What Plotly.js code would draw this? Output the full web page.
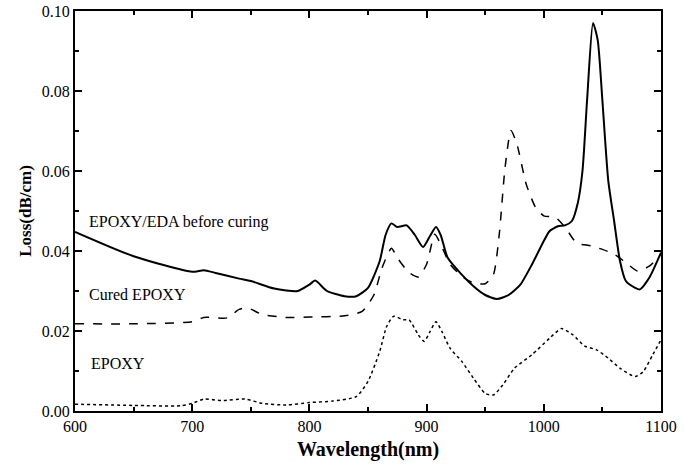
<!DOCTYPE html>
<html><head><meta charset="utf-8">
<script src="https://cdn.plot.ly/plotly-3.0.1.min.js"></script>
<style>html,body{margin:0;padding:0;background:#fff}#chart{width:685px;height:469px}</style>
</head><body><div id="chart"></div>
<script>
const edaX = [600,650,700,710,720,740,750,770,790,800,805,815,830,840,850,860,865,870,875,883,890,897,903,908,912,918,930,940,950,960,970,980,990,1000,1005,1012,1018,1024,1029,1033,1037,1042,1046,1050,1055,1060,1065,1070,1078,1082,1090,1100];
const edaY = [0.0448,0.0387,0.0348,0.0352,0.0345,0.0331,0.0325,0.0306,0.0300,0.0316,0.0326,0.0300,0.0287,0.0287,0.0308,0.0375,0.0440,0.0469,0.0460,0.0464,0.0440,0.0410,0.0438,0.0460,0.0440,0.0383,0.0341,0.0312,0.0290,0.0280,0.0290,0.0316,0.0367,0.0425,0.0450,0.0462,0.0464,0.0475,0.0520,0.0600,0.0780,0.0970,0.0927,0.0776,0.0576,0.0475,0.0375,0.0325,0.0308,0.0304,0.0333,0.0396];
const curedX = [600,650,700,710,730,740,747,760,780,800,830,845,855,862,870,875,885,893,900,907,912,920,930,940,950,957,962,967,972,977,985,993,1000,1010,1018,1028,1040,1050,1060,1070,1080,1090,1100];
const curedY = [0.0218,0.0218,0.0223,0.0234,0.0233,0.0254,0.0258,0.0241,0.0234,0.0235,0.0238,0.0249,0.0290,0.0358,0.0407,0.0383,0.0346,0.0335,0.0367,0.0442,0.0417,0.0367,0.0337,0.0320,0.0318,0.0341,0.0442,0.0610,0.0701,0.0668,0.0567,0.0509,0.0488,0.0484,0.0460,0.0420,0.0413,0.0404,0.0392,0.0371,0.0350,0.0362,0.0392];
const epoxyX = [600,650,690,700,710,725,745,760,780,800,820,840,850,860,866,872,880,885,893,898,903,908,913,920,930,940,950,957,965,975,990,1005,1015,1025,1035,1045,1055,1065,1078,1085,1093,1100];
const epoxyY = [0.0017,0.0014,0.0013,0.0019,0.0030,0.0026,0.0030,0.0019,0.0015,0.0021,0.0025,0.0036,0.0074,0.0149,0.0212,0.0237,0.0228,0.0228,0.0190,0.0174,0.0199,0.0223,0.0199,0.0157,0.0124,0.0082,0.0044,0.0040,0.0065,0.0107,0.0141,0.0182,0.0206,0.0190,0.0162,0.0153,0.0132,0.0107,0.0086,0.0099,0.0141,0.0178];
const seriesNames = ["EPOXY/EDA before curing","Cured EPOXY","EPOXY"];
const xTickVals = [600,700,800,900,1000,1100];
const yTickVals = [0,0.02,0.04,0.06,0.08,0.10];

const serif = "Liberation Serif, Times New Roman, serif";
const traces = [
  {x: edaX, y: edaY, name: seriesNames[0], mode: "lines", line: {color: "#000", width: 2, shape: "spline", smoothing: 0.6}},
  {x: curedX, y: curedY, name: seriesNames[1], mode: "lines", line: {color: "#000", width: 1.5, dash: "dash", shape: "spline", smoothing: 0.6}},
  {x: epoxyX, y: epoxyY, name: seriesNames[2], mode: "lines", line: {color: "#000", width: 1.5, dash: "dot", shape: "spline", smoothing: 0.6}}
];
const layout = {
  width: 685, height: 469,
  margin: {l: 75, r: 24, t: 11, b: 58},
  showlegend: false,
  xaxis: {range: [xTickVals[0], xTickVals[xTickVals.length - 1]], showline: true, linewidth: 2, linecolor: "#000", mirror: "allticks",
    tickmode: "linear", tick0: xTickVals[0], dtick: xTickVals[1] - xTickVals[0],
    ticks: "inside", ticklen: 7, tickwidth: 2, tickcolor: "#000", showgrid: false, zeroline: false,
    tickfont: {family: serif, size: 16, color: "#000"},
    minor: {ticks: "inside", ticklen: 4, tickcolor: "#000", dtick: (xTickVals[1] - xTickVals[0]) / 2},
    title: {text: "<b>Wavelength(nm)</b>", font: {family: serif, size: 20, color: "#000"}, standoff: 8}},
  yaxis: {range: [yTickVals[0], yTickVals[yTickVals.length - 1]], showline: true, linewidth: 2, linecolor: "#000", mirror: "allticks",
    tickmode: "linear", tick0: yTickVals[0], dtick: yTickVals[1] - yTickVals[0], tickformat: ".2f",
    ticks: "inside", ticklen: 7, tickwidth: 2, tickcolor: "#000", showgrid: false, zeroline: false,
    tickfont: {family: serif, size: 16, color: "#000"},
    minor: {ticks: "inside", ticklen: 4, tickcolor: "#000", dtick: (yTickVals[1] - yTickVals[0]) / 2},
    title: {text: "<b>Loss(dB/cm)</b>", font: {family: serif, size: 17, color: "#000"}, standoff: 6}},
  annotations: [
    {x: 610, y: 0.0473, xref: "x", yref: "y", text: seriesNames[0], showarrow: false, xanchor: "left", font: {family: serif, size: 16, color: "#000"}},
    {x: 610, y: 0.0292, xref: "x", yref: "y", text: seriesNames[1], showarrow: false, xanchor: "left", font: {family: serif, size: 16, color: "#000"}},
    {x: 612, y: 0.0120, xref: "x", yref: "y", text: seriesNames[2], showarrow: false, xanchor: "left", font: {family: serif, size: 16, color: "#000"}}
  ]
};
Plotly.newPlot("chart", traces, layout, {displayModeBar: false});
</script></body></html>
